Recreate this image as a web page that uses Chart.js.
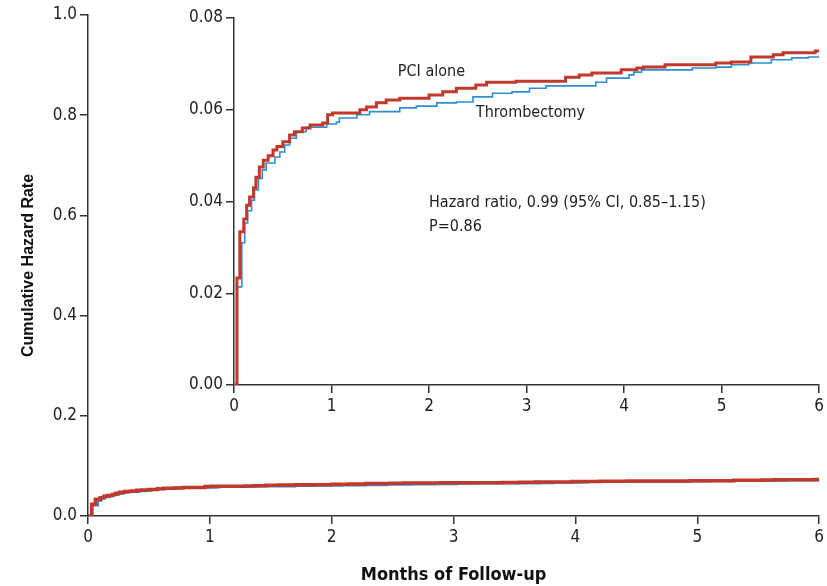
<!DOCTYPE html>
<html>
<head>
<title>Cumulative Hazard</title>
<script src="https://cdn.jsdelivr.net/npm/chart.js"></script>
<style>
  body { margin: 0; background: #fff; }
  #wrap { position: relative; width: 827px; height: 586px; }
  #main { position: absolute; left: 0; top: 0; }
  #inset { position: absolute; left: 180px; top: 0; }
</style>
</head>
<body>
<div id="wrap">
  <canvas id="main" width="827" height="586"></canvas>
  <canvas id="inset" width="647" height="420"></canvas>
</div>
<script>
// months of follow-up and cumulative hazard
const pciMonths = [0, 0.03, 0.06, 0.10, 0.13, 0.16, 0.20, 0.225, 0.26, 0.30, 0.35, 0.40, 0.44, 0.50, 0.57, 0.62,
  0.70, 0.78, 0.91, 0.96, 1.01, 1.29, 1.36, 1.46, 1.56, 1.70, 2.00, 2.14, 2.28, 2.48, 2.59, 2.89,
  3.40, 3.54, 3.67, 3.97, 4.13, 4.20, 4.42, 4.94, 5.10, 5.30, 5.53, 5.63, 5.96, 6.0];
const pciHazard = [0, 0.0233, 0.0334, 0.0362, 0.0392, 0.041, 0.043, 0.0453, 0.0475, 0.049, 0.050, 0.0512, 0.052, 0.053, 0.0545, 0.0552,
  0.056, 0.0567, 0.0571, 0.0589, 0.0593, 0.060, 0.0606, 0.0615, 0.0621, 0.0625, 0.0632, 0.0639, 0.0647, 0.0654, 0.066, 0.0662,
  0.0671, 0.0676, 0.068, 0.0687, 0.0691, 0.0693, 0.0698, 0.0702, 0.0704, 0.0715, 0.072, 0.0724, 0.0728, 0.073];

const thrMonths = [0, 0.035, 0.08, 0.11, 0.14, 0.18, 0.21, 0.25, 0.29, 0.33, 0.42, 0.47, 0.52, 0.57, 0.64, 0.74,
  0.95, 1.05, 1.08, 1.26, 1.39, 1.70, 1.87, 2.08, 2.28, 2.45, 2.65, 2.85, 3.03, 3.20, 3.71, 3.82,
  4.05, 4.10, 4.18, 4.70, 4.94, 5.10, 5.28, 5.51, 5.72, 5.89, 6.0];
const thrHazard = [0, 0.0214, 0.031, 0.0353, 0.038, 0.0403, 0.0425, 0.045, 0.0469, 0.0484, 0.0497, 0.0508, 0.0523, 0.0538, 0.0552, 0.0562,
  0.0569, 0.0573, 0.0582, 0.0589, 0.0596, 0.0604, 0.0608, 0.0615, 0.0617, 0.0628, 0.0636, 0.0639, 0.0647, 0.0652, 0.066, 0.0669,
  0.0676, 0.0682, 0.0687, 0.0691, 0.0693, 0.0698, 0.0702, 0.0709, 0.0713, 0.0715, 0.0718];

const mainYTicks = [0, 0.2, 0.4, 0.6, 0.8, 1.0];
const insetYTicks = [0, 0.02, 0.04, 0.06, 0.08];
const monthTicks = [0, 1, 2, 3, 4, 5, 6];

// text notes inside the inset, in data units
const notes = [
  { text: 'PCI alone', x: 1.68, y: 0.0682 },
  { text: 'Thrombectomy', x: 2.48, y: 0.0593 },
  { text: 'Hazard ratio, 0.99 (95% CI, 0.85\u20131.15)', x: 2.0, y: 0.0396 },
  { text: 'P=0.86', x: 2.0, y: 0.0344 }
];

const RED = '#c0392b';
const BLUE = '#2b8fd1';
const AXIS = '#333';
const NARROW = '"Liberation Sans Narrow", "DejaVu Sans Condensed", sans-serif';

Chart.defaults.font.family = NARROW;
Chart.defaults.color = '#222';
Chart.defaults.animation = false;

function pts(xs, ys) {
  return xs.map((x, i) => ({ x: x, y: ys[i] }));
}

// dataset 0 is painted last (on top), so PCI goes first
function lineSet(xs, ys, color, width) {
  return {
    data: pts(xs, ys),
    borderColor: color,
    borderWidth: width,
    stepped: true,
    pointRadius: 0,
    fill: false
  };
}

function axis(min, max, ticks, digits, extra) {
  return Object.assign({
    type: 'linear',
    min: min,
    max: max,
    afterBuildTicks: s => { s.ticks = ticks.map(v => ({ value: v })); },
    ticks: {
      font: { size: 17 },
      color: '#222',
      padding: 3,
      callback: v => Number(v).toFixed(digits)
    },
    grid: { drawOnChartArea: false, tickLength: 8, color: AXIS, lineWidth: 1.5 },
    border: { color: AXIS, width: 1.5 }
  }, extra);
}

const notesPlugin = {
  id: 'notes',
  afterDatasetsDraw(chart) {
    const ctx = chart.ctx;
    const xs = chart.scales.x, ys = chart.scales.y;
    ctx.save();
    ctx.font = '16px ' + NARROW;
    ctx.fillStyle = '#222';
    ctx.textBaseline = 'middle';
    notes.forEach(n => ctx.fillText(n.text, xs.getPixelForValue(n.x), ys.getPixelForValue(n.y)));
    ctx.restore();
  }
};

new Chart(document.getElementById('main'), {
  type: 'line',
  data: {
    datasets: [
      lineSet(pciMonths, pciHazard, RED, 3.5),
      lineSet(thrMonths, thrHazard, BLUE, 2.5)
    ]
  },
  options: {
    responsive: false,
    layout: { padding: { top: 15, right: 6, left: 0, bottom: 0 } },
    plugins: { legend: { display: false }, tooltip: { enabled: false } },
    scales: {
      x: axis(0, 6, monthTicks, 0, {
        afterFit: s => { s.height = 70; },
        title: { display: true, text: 'Months of Follow-up', font: { size: 18, weight: 'bold' }, color: '#111', padding: 0 }
      }),
      y: axis(0, 1, mainYTicks, 1, {
        afterFit: s => { s.width = 88; },
        title: {
          display: true, text: 'Cumulative Hazard Rate',
          font: { size: 16, weight: 'bold', family: '"Liberation Sans", Arial, sans-serif' },
          color: '#111', padding: { top: 19, bottom: 0 }
        }
      })
    }
  }
});

new Chart(document.getElementById('inset'), {
  type: 'line',
  data: {
    datasets: [
      lineSet(pciMonths, pciHazard, RED, 3),
      lineSet(thrMonths, thrHazard, BLUE, 1.6)
    ]
  },
  options: {
    responsive: false,
    layout: { padding: { top: 18, right: 6, left: 0, bottom: 0 } },
    plugins: { legend: { display: false }, tooltip: { enabled: false } },
    scales: {
      x: axis(0, 6, monthTicks, 0, { afterFit: s => { s.height = 35; } }),
      y: axis(0, 0.08, insetYTicks, 2, { afterFit: s => { s.width = 54; } })
    }
  },
  plugins: [notesPlugin]
});
</script>
</body>
</html>
